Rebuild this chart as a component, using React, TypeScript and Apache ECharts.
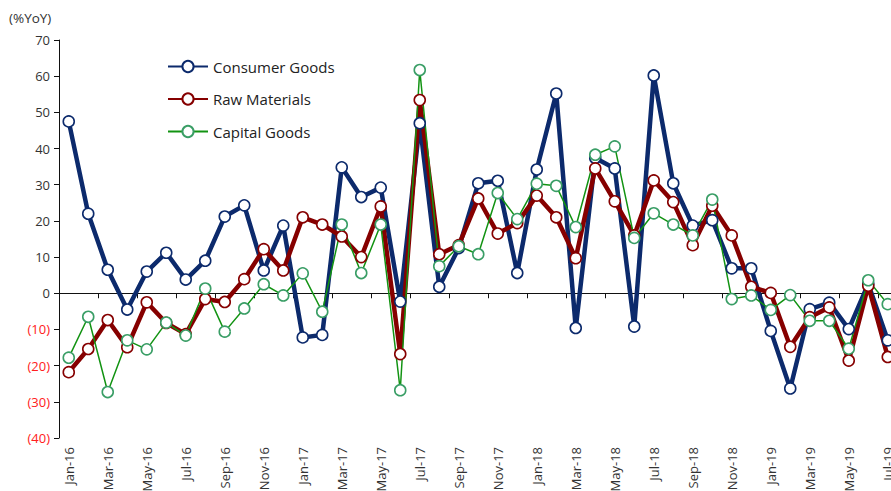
import React, { useEffect, useRef } from "react";
import * as echarts from "echarts";

const categories = [
  "Jan-16","Feb-16","Mar-16","Apr-16","May-16","Jun-16","Jul-16","Aug-16","Sep-16","Oct-16","Nov-16","Dec-16",
  "Jan-17","Feb-17","Mar-17","Apr-17","May-17","Jun-17","Jul-17","Aug-17","Sep-17","Oct-17","Nov-17","Dec-17",
  "Jan-18","Feb-18","Mar-18","Apr-18","May-18","Jun-18","Jul-18","Aug-18","Sep-18","Oct-18","Nov-18","Dec-18",
  "Jan-19","Feb-19","Mar-19","Apr-19","May-19","Jun-19","Jul-19",
];

const consumerGoods = [
  47.5, 22, 6.5, -4.5, 6, 11.2, 3.8, 9, 21.2, 24.3, 6.3, 18.7,
  -12.2, -11.5, 34.8, 26.6, 29.2, -2.3, 47, 1.8, 12.5, 30.4, 31.1, 5.6,
  34.2, 55.2, -9.6, 37.4, 34.5, -9.2, 60.2, 30.4, 18.7, 20.2, 6.9, 6.9,
  -10.4, -26.3, -4.4, -2.6, -9.9, 2.6, -13,
];

const rawMaterials = [
  -21.8, -15.4, -7.4, -14.9, -2.5, -8.2, -11.3, -1.6, -2.4, 3.9, 12.2, 6.3,
  21, 19, 15.7, 10, 24, -16.8, 53.4, 10.8, 13.3, 26.2, 16.5, 19.4,
  27, 21, 9.7, 34.5, 25.4, 16, 31.2, 25.2, 13.3, 24.2, 16, 1.8,
  0.1, -14.8, -6.6, -3.9, -18.6, 2.1, -17.6,
];

const capitalGoods = [
  -17.8, -6.5, -27.3, -13, -15.5, -8.1, -11.7, 1.3, -10.6, -4.2, 2.5, -0.6,
  5.5, -5.1, 19, 5.6, 19, -26.8, 61.7, 7.5, 13, 10.8, 27.7, 20.5,
  30.3, 29.7, 18.3, 38.3, 40.6, 15.3, 22.1, 19, 16, 25.9, -1.6, -0.6,
  -4.6, -0.5, -7.6, -7.6, -15.3, 3.6, -3,
];

const seriesNames = ["Consumer Goods", "Raw Materials", "Capital Goods"];
const yAxisTitle = "(%YoY)";

const FONT = "'Open Sans', sans-serif";

export default function App() {
  const ref = useRef<HTMLDivElement>(null);

  useEffect(() => {
    if (!ref.current) return;
    const chart = echarts.init(ref.current, null, { renderer: "svg" });
    const navy = "#0C2A6C";
    const red = "#860000";
    const green = "#129312";
    const greenSym = "#3A9E66";
    chart.setOption({
      animation: false,
      backgroundColor: "#ffffff",
      textStyle: { fontFamily: FONT },
      title: {
        text: yAxisTitle,
        left: 9,
        top: 11,
        padding: 0,
        textStyle: { fontSize: 13.5, fontWeight: "normal", color: "#333", fontFamily: FONT },
      },
      legend: {
        orient: "vertical",
        left: 167,
        top: 59,
        padding: 0,
        itemWidth: 40,
        itemHeight: 14,
        itemGap: 17.5,
        textStyle: { fontSize: 15, color: "#222", fontFamily: FONT },
        data: seriesNames,
      },
      grid: { left: 59, top: 40, width: 838.5, height: 398, outerBoundsMode: "none", containLabel: false },
      xAxis: [
        {
          type: "category",
          data: categories,
          boundaryGap: true,
          axisLine: { onZero: true, lineStyle: { color: "#111", width: 1 } },
          axisTick: { show: true, interval: 1, length: 5, lineStyle: { color: "#111" } },
          axisLabel: { show: false },
          splitLine: { show: false },
        },
        {
          type: "category",
          data: categories,
          boundaryGap: true,
          position: "bottom",
          axisLine: { show: false, onZero: false },
          axisTick: { show: false },
          axisLabel: {
            show: true,
            interval: 1,
            rotate: 90,
            margin: 9,
            fontSize: 13,
            color: "#333",
            fontFamily: FONT,
          },
          splitLine: { show: false },
        },
      ],
      yAxis: {
        type: "value",
        min: -40,
        max: 70,
        interval: 10,
        axisLine: { show: true, lineStyle: { color: "#111", width: 1 } },
        axisTick: { show: true, length: 5, lineStyle: { color: "#111" } },
        splitLine: { show: false },
        axisLabel: {
          fontSize: 13,
          margin: 9,
          fontFamily: FONT,
          formatter: (v: number) => (v < 0 ? `(${-v})` : `${v}`),
          color: (v: any) => (Number(v) < 0 ? "#FF2020" : "#333"),
        },
      },
      series: [
        {
          name: seriesNames[0],
          type: "line",
          xAxisIndex: 0,
          data: consumerGoods,
          symbol: "circle",
          symbolSize: 11,
          lineStyle: { color: navy, width: 4.5 },
          itemStyle: { color: "#fff", borderColor: navy, borderWidth: 1.6 },
          color: navy,
        },
        {
          name: seriesNames[1],
          type: "line",
          xAxisIndex: 0,
          data: rawMaterials,
          symbol: "circle",
          symbolSize: 11,
          lineStyle: { color: red, width: 4.5 },
          itemStyle: { color: "#fff", borderColor: red, borderWidth: 1.6 },
          color: red,
        },
        {
          name: seriesNames[2],
          type: "line",
          xAxisIndex: 0,
          data: capitalGoods,
          symbol: "circle",
          symbolSize: 11,
          lineStyle: { color: green, width: 1.5 },
          itemStyle: { color: "#fff", borderColor: greenSym, borderWidth: 1.6 },
          color: green,
        },
      ],
    });
    return () => chart.dispose();
  }, []);

  return (
    <div
      style={{ position: "fixed", left: 0, top: 0, width: 891, height: 491, overflow: "hidden", background: "#fff" }}
    >
      <div ref={ref} style={{ position: "absolute", left: 0, top: 0, width: 898, height: 491 }} />
    </div>
  );
}
